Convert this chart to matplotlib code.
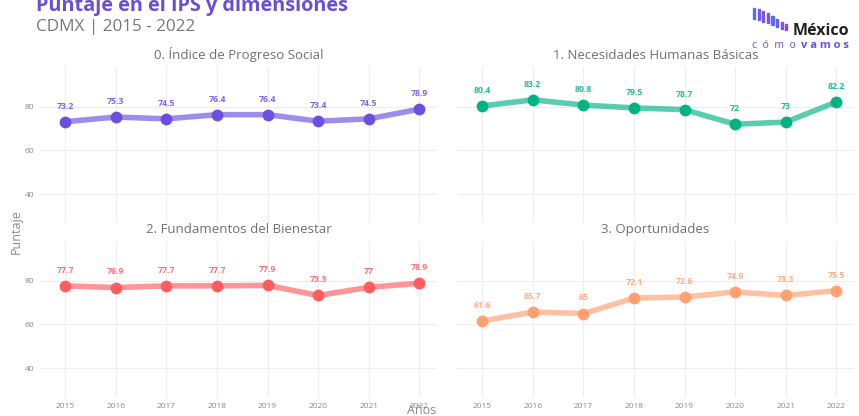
import matplotlib
matplotlib.use("Agg")
import matplotlib.pyplot as plt
from matplotlib.patches import Rectangle

# data
years = [2015, 2016, 2017, 2018, 2019, 2020, 2021, 2022]
panel_titles = [
    "0. Índice de Progreso Social",
    "1. Necesidades Humanas Básicas",
    "2. Fundamentos del Bienestar",
    "3. Oportunidades",
]
ips = [73.2, 75.3, 74.5, 76.4, 76.4, 73.4, 74.5, 78.9]
nhb = [80.4, 83.2, 80.8, 79.5, 78.7, 72, 73, 82.2]
fb = [77.7, 76.9, 77.7, 77.7, 77.9, 73.3, 77, 78.9]
opo = [61.6, 65.7, 65, 72.1, 72.6, 74.9, 73.3, 75.5]
y_ticks = [40, 60, 80]

SERIES = [ips, nhb, fb, opo]
COLORS = ["#6b4fe0", "#00b382", "#ff5c5f", "#ffa071"]
GRID = "#eeeeee"
TXT = "#8a8a8a"
FONT = "Open Sans"

plt.rcParams["font.family"] = [FONT, "DejaVu Sans"]

fig = plt.figure(figsize=(8.59, 4.16), dpi=100)
fig.patch.set_facecolor("white")

W, H = 859, 416
boxes = [(40, 67), (457, 67), (40, 241), (457, 241)]
aw, ah = 397, 156


def fmt(v):
    return f"{v:g}"


for i, (x0, y0) in enumerate(boxes):
    ax = fig.add_axes([x0 / W, 1 - (y0 + ah) / H, aw / W, ah / H])
    vals = SERIES[i]
    col = COLORS[i]
    ax.plot(years, vals, color=col, lw=4, alpha=0.65, solid_capstyle="round", zorder=3)
    ax.plot(years, vals, "o", color=col, ms=8.5, mec="none", zorder=4)
    for x, v in zip(years, vals):
        ax.annotate(fmt(v), (x, v), xytext=(0, 8), textcoords="offset points",
                    ha="center", va="bottom", fontsize=6.3, fontweight="bold",
                    color=col, alpha=0.85)
    ax.set_xlim(2014.5, 2022.35)
    ax.set_ylim(26.75, 98.25)
    ax.set_xticks(years)
    ax.set_yticks(y_ticks)
    ax.grid(True, color=GRID, lw=0.8)
    ax.set_axisbelow(True)
    for s in ax.spines.values():
        s.set_visible(False)
    ax.tick_params(length=0, labelsize=6, labelcolor=TXT, pad=4)
    if i < 2:
        ax.set_xticklabels([])
    if i % 2 == 1:
        ax.set_yticklabels([])
    ax.set_title(panel_titles[i], fontsize=9.5, color="#707070", pad=6)

# titles
fig.text(36 / W, 1 - 6 / H, "Puntaje en el IPS y dimensiones", fontsize=14.3,
         fontweight="bold", color="#6a4fd6", va="center", ha="left")
fig.text(36 / W, 1 - 27 / H, "CDMX | 2015 - 2022", fontsize=12.3,
         color="#777777", va="center", ha="left")
fig.text(16 / W, 1 - 232 / H, "Puntaje", fontsize=9, color=TXT,
         rotation=90, va="center", ha="center")
fig.text(422 / W, 1 - 411 / H, "Años", fontsize=9, color=TXT,
         va="center", ha="center")

# logo
tops = [8, 9, 11, 13, 16, 19, 22, 24]
hts = [11, 11, 11, 10, 9, 8, 7, 6]
for k, (t, h) in enumerate(zip(tops, hts)):
    fig.patches.append(Rectangle(((753 + k * 4.6) / W, 1 - (t + h) / H), 2.2 / W, h / H,
                                 transform=fig.transFigure,
                                 color=["#5a6cf0", "#6a5ee8", "#7a55e0", "#8450d8"][k % 4]))
fig.text(793 / W, 1 - 31 / H, "México", fontsize=11.5, fontweight="bold",
         color="#222222", va="center", ha="left")
fig.text(752 / W, 1 - 45 / H, "c  ó  m  o", fontsize=7.5, color="#6b4fe0",
         va="center", ha="left")
fig.text(801 / W, 1 - 45 / H, "v a m o s", fontsize=8, fontweight="bold",
         color="#6b4fe0", va="center", ha="left")

fig.savefig("out.png", dpi=100, facecolor="white")
